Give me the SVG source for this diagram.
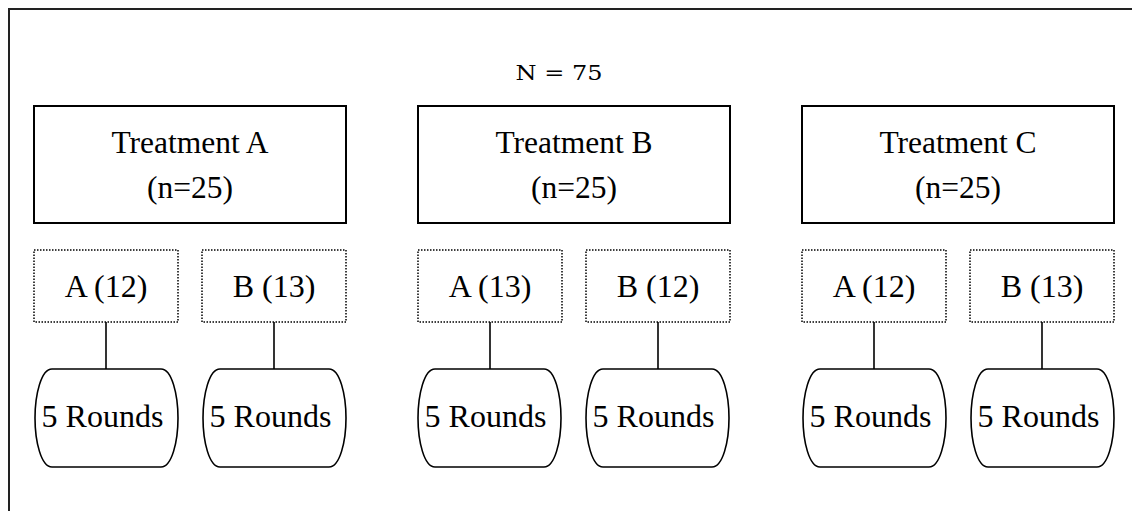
<svg xmlns="http://www.w3.org/2000/svg" width="1132" height="511" viewBox="0 0 1132 511">
<defs>
<style>
.frame{fill:none;stroke:#222;stroke-width:2}
.tbox{fill:#fff;stroke:#000;stroke-width:2}
.sub{fill:#fff;stroke:#000;stroke-width:1.5;stroke-dasharray:1.5 1.5}
.rnd{fill:#fff;stroke:#000;stroke-width:1.6}
.conn{stroke:#000;stroke-width:1.6;fill:none}
.t{font-family:"Liberation Serif","Times New Roman",serif;font-size:32px;fill:#000;text-anchor:middle}
.tt{font-size:31.5px}
.n{font-family:"DejaVu Serif","Liberation Serif",serif;font-size:20px;fill:#000;text-anchor:middle}
</style>
<path id="rshape" d="M17,0 L126,0 C137,0 143,26 143,49 C143,72 137,98 126,98 L17,98 C6,98 0,72 0,49 C0,26 6,0 17,0 Z"/>
</defs>
<rect class="frame" x="9" y="9" width="1200" height="600"/>
<text class="n" x="559" y="80" textLength="87" lengthAdjust="spacingAndGlyphs">N = 75</text>

<g id="connectors">
<line class="conn" x1="106" y1="322" x2="106" y2="369"/>
<line class="conn" x1="274" y1="322" x2="274" y2="369"/>
<line class="conn" x1="490" y1="322" x2="490" y2="369"/>
<line class="conn" x1="658" y1="322" x2="658" y2="369"/>
<line class="conn" x1="874" y1="322" x2="874" y2="369"/>
<line class="conn" x1="1042" y1="322" x2="1042" y2="369"/>
</g>

<g id="treatmentA">
<rect class="tbox" x="34" y="106" width="312" height="117"/>
<text class="t tt" x="190" y="153">Treatment A</text>
<text class="t tt" x="190" y="198">(n=25)</text>
</g>
<g id="treatmentB">
<rect class="tbox" x="418" y="106" width="312" height="117"/>
<text class="t tt" x="574" y="153">Treatment B</text>
<text class="t tt" x="574" y="198">(n=25)</text>
</g>
<g id="treatmentC">
<rect class="tbox" x="802" y="106" width="312" height="117"/>
<text class="t tt" x="958" y="153">Treatment C</text>
<text class="t tt" x="958" y="198">(n=25)</text>
</g>

<g id="subA1"><rect class="sub" x="34" y="250" width="144" height="72"/><text class="t" x="106" y="297">A (12)</text></g>
<g id="subA2"><rect class="sub" x="202" y="250" width="144" height="72"/><text class="t" x="274" y="297">B (13)</text></g>
<g id="subB1"><rect class="sub" x="418" y="250" width="144" height="72"/><text class="t" x="490" y="297">A (13)</text></g>
<g id="subB2"><rect class="sub" x="586" y="250" width="144" height="72"/><text class="t" x="658" y="297">B (12)</text></g>
<g id="subC1"><rect class="sub" x="802" y="250" width="144" height="72"/><text class="t" x="874" y="297">A (12)</text></g>
<g id="subC2"><rect class="sub" x="970" y="250" width="144" height="72"/><text class="t" x="1042" y="297">B (13)</text></g>

<g id="roundsA1"><use href="#rshape" class="rnd" x="35" y="369"/><text class="t" x="102.5" y="427">5 Rounds</text></g>
<g id="roundsA2"><use href="#rshape" class="rnd" x="203" y="369"/><text class="t" x="270.5" y="427">5 Rounds</text></g>
<g id="roundsB1"><use href="#rshape" class="rnd" x="418" y="369"/><text class="t" x="485.5" y="427">5 Rounds</text></g>
<g id="roundsB2"><use href="#rshape" class="rnd" x="586" y="369"/><text class="t" x="653.5" y="427">5 Rounds</text></g>
<g id="roundsC1"><use href="#rshape" class="rnd" x="803" y="369"/><text class="t" x="870.5" y="427">5 Rounds</text></g>
<g id="roundsC2"><use href="#rshape" class="rnd" x="971" y="369"/><text class="t" x="1038.5" y="427">5 Rounds</text></g>
</svg>
